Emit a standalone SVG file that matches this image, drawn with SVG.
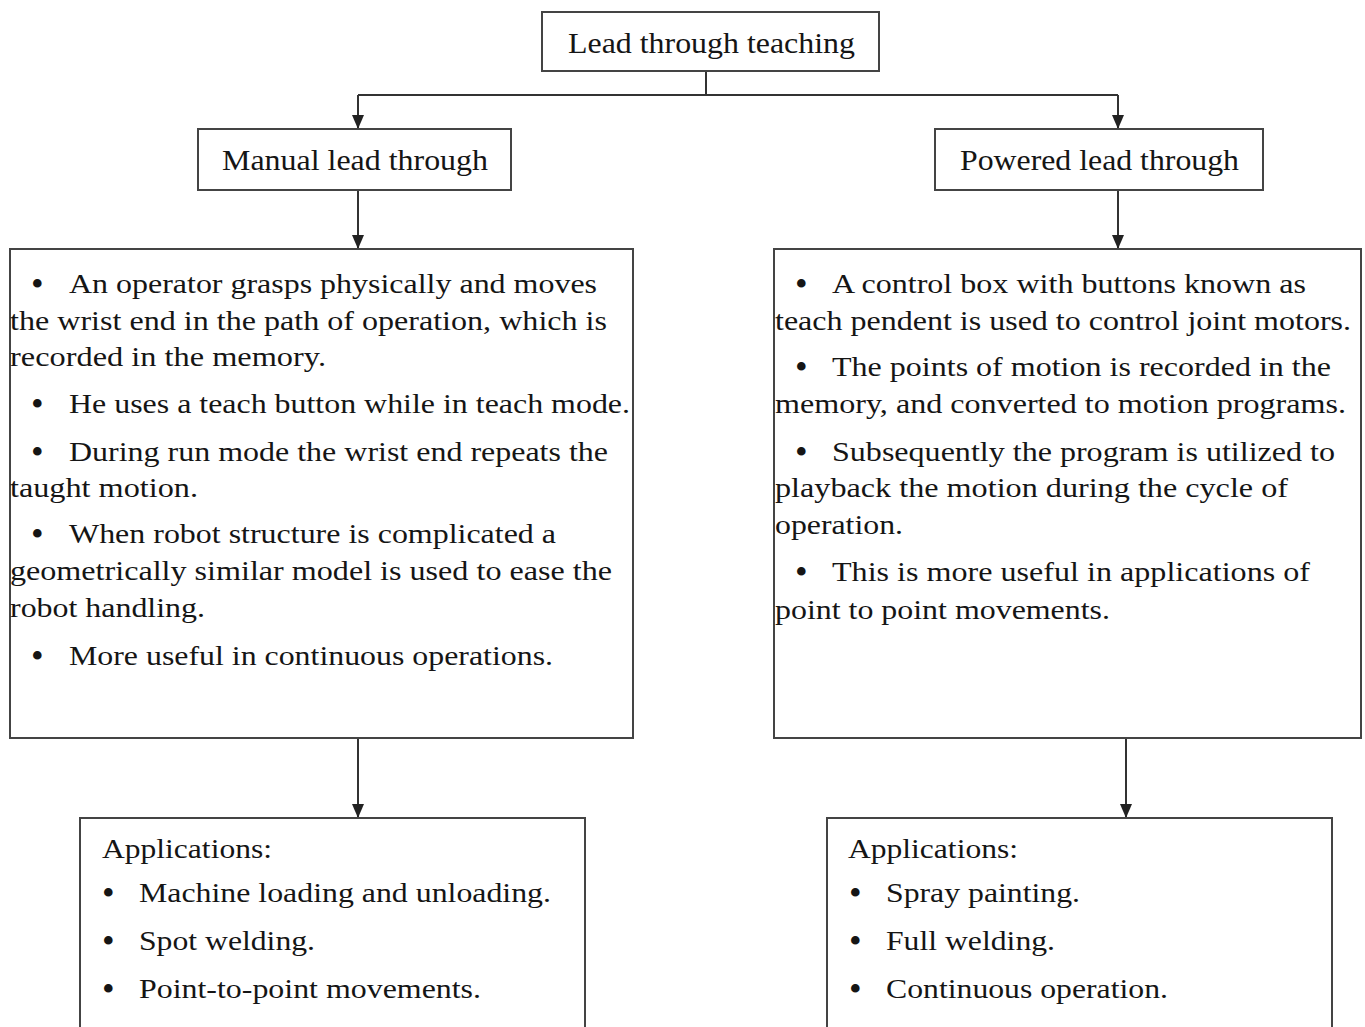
<svg xmlns="http://www.w3.org/2000/svg" width="1365" height="1027" viewBox="0 0 1365 1027">
<defs>
<marker id="ah" markerWidth="14" markerHeight="12" refX="14" refY="6" orient="auto" markerUnits="userSpaceOnUse" viewBox="0 0 14 12">
<path d="M0,0 L14,6 L0,12 Z" fill="#222"/>
</marker>
<style>
.box{fill:#fff;stroke:#444;stroke-width:2}
.t{font-family:"Liberation Serif","Times New Roman",serif;font-size:28px;fill:#151515}
.b{font-family:"Liberation Serif","Times New Roman",serif;font-size:36px;fill:#151515}
.h{font-family:"Liberation Serif","Times New Roman",serif;font-size:30px;fill:#151515}
.c{fill:none;stroke:#333;stroke-width:2}
</style>
</defs>
<rect width="1365" height="1027" fill="#fff"/>
<g id="connectors">
<path class="c" d="M706,71 V95"/>
<path class="c" d="M358,95 H1118"/>
<path class="c" d="M358,95 V129" marker-end="url(#ah)"/>
<path class="c" d="M1118,95 V129" marker-end="url(#ah)"/>
<path class="c" d="M358,190 V249" marker-end="url(#ah)"/>
<path class="c" d="M1118,190 V249" marker-end="url(#ah)"/>
<path class="c" d="M358,738 V818" marker-end="url(#ah)"/>
<path class="c" d="M1126,738 V818" marker-end="url(#ah)"/>
</g>
<g id="root">
<rect class="box" x="542" y="12" width="337" height="59"/>
<text class="h" x="568" y="53" textLength="287" lengthAdjust="spacingAndGlyphs">Lead through teaching</text>
</g>
<g id="manual">
<rect class="box" x="198" y="129" width="313" height="61"/>
<text class="h" x="222" y="170" textLength="266" lengthAdjust="spacingAndGlyphs">Manual lead through</text>
</g>
<g id="powered">
<rect class="box" x="935" y="129" width="328" height="61"/>
<text class="h" x="960" y="170" textLength="279" lengthAdjust="spacingAndGlyphs">Powered lead through</text>
</g>
<g id="manual-desc">
<rect class="box" x="10" y="249" width="623" height="489"/>
<text class="b" x="31" y="296">•</text><text class="t" x="69" y="293" textLength="528" lengthAdjust="spacingAndGlyphs">An operator grasps physically and moves</text>
<text class="t" x="10" y="330" textLength="597" lengthAdjust="spacingAndGlyphs">the wrist end in the path of operation, which is</text>
<text class="t" x="10" y="366" textLength="316" lengthAdjust="spacingAndGlyphs">recorded in the memory.</text>
<text class="b" x="31" y="416">•</text><text class="t" x="69" y="413" textLength="561" lengthAdjust="spacingAndGlyphs">He uses a teach button while in teach mode.</text>
<text class="b" x="31" y="464">•</text><text class="t" x="69" y="461" textLength="539" lengthAdjust="spacingAndGlyphs">During run mode the wrist end repeats the</text>
<text class="t" x="10" y="497" textLength="188" lengthAdjust="spacingAndGlyphs">taught motion.</text>
<text class="b" x="31" y="546">•</text><text class="t" x="69" y="543" textLength="487" lengthAdjust="spacingAndGlyphs">When robot structure is complicated a</text>
<text class="t" x="10" y="580" textLength="602" lengthAdjust="spacingAndGlyphs">geometrically similar model is used to ease the</text>
<text class="t" x="10" y="617" textLength="195" lengthAdjust="spacingAndGlyphs">robot handling.</text>
<text class="b" x="31" y="668">•</text><text class="t" x="69" y="665" textLength="484" lengthAdjust="spacingAndGlyphs">More useful in continuous operations.</text>
</g>
<g id="powered-desc">
<rect class="box" x="774" y="249" width="587" height="489"/>
<text class="b" x="795" y="296">•</text><text class="t" x="832" y="293" textLength="474" lengthAdjust="spacingAndGlyphs">A control box with buttons known as</text>
<text class="t" x="775" y="330" textLength="576" lengthAdjust="spacingAndGlyphs">teach pendent is used to control joint motors.</text>
<text class="b" x="795" y="379">•</text><text class="t" x="832" y="376" textLength="499" lengthAdjust="spacingAndGlyphs">The points of motion is recorded in the</text>
<text class="t" x="775" y="413" textLength="571" lengthAdjust="spacingAndGlyphs">memory, and converted to motion programs.</text>
<text class="b" x="795" y="464">•</text><text class="t" x="832" y="461" textLength="503" lengthAdjust="spacingAndGlyphs">Subsequently the program is utilized to</text>
<text class="t" x="775" y="497" textLength="513" lengthAdjust="spacingAndGlyphs">playback the motion during the cycle of</text>
<text class="t" x="775" y="534" textLength="128" lengthAdjust="spacingAndGlyphs">operation.</text>
<text class="b" x="795" y="584">•</text><text class="t" x="832" y="581" textLength="478" lengthAdjust="spacingAndGlyphs">This is more useful in applications of</text>
<text class="t" x="775" y="619" textLength="335" lengthAdjust="spacingAndGlyphs">point to point movements.</text>
</g>
<g id="manual-apps">
<rect class="box" x="80" y="818" width="505" height="230"/>
<text class="t" x="102" y="858" textLength="170" lengthAdjust="spacingAndGlyphs">Applications:</text>
<text class="b" x="102" y="905">•</text><text class="t" x="139" y="902" textLength="412" lengthAdjust="spacingAndGlyphs">Machine loading and unloading.</text>
<text class="b" x="102" y="953">•</text><text class="t" x="139" y="950" textLength="176" lengthAdjust="spacingAndGlyphs">Spot welding.</text>
<text class="b" x="102" y="1001">•</text><text class="t" x="139" y="998" textLength="342" lengthAdjust="spacingAndGlyphs">Point-to-point movements.</text>
</g>
<g id="powered-apps">
<rect class="box" x="827" y="818" width="505" height="230"/>
<text class="t" x="848" y="858" textLength="170" lengthAdjust="spacingAndGlyphs">Applications:</text>
<text class="b" x="849" y="905">•</text><text class="t" x="886" y="902" textLength="194" lengthAdjust="spacingAndGlyphs">Spray painting.</text>
<text class="b" x="849" y="953">•</text><text class="t" x="886" y="950" textLength="169" lengthAdjust="spacingAndGlyphs">Full welding.</text>
<text class="b" x="849" y="1001">•</text><text class="t" x="886" y="998" textLength="282" lengthAdjust="spacingAndGlyphs">Continuous operation.</text>
</g>
</svg>
